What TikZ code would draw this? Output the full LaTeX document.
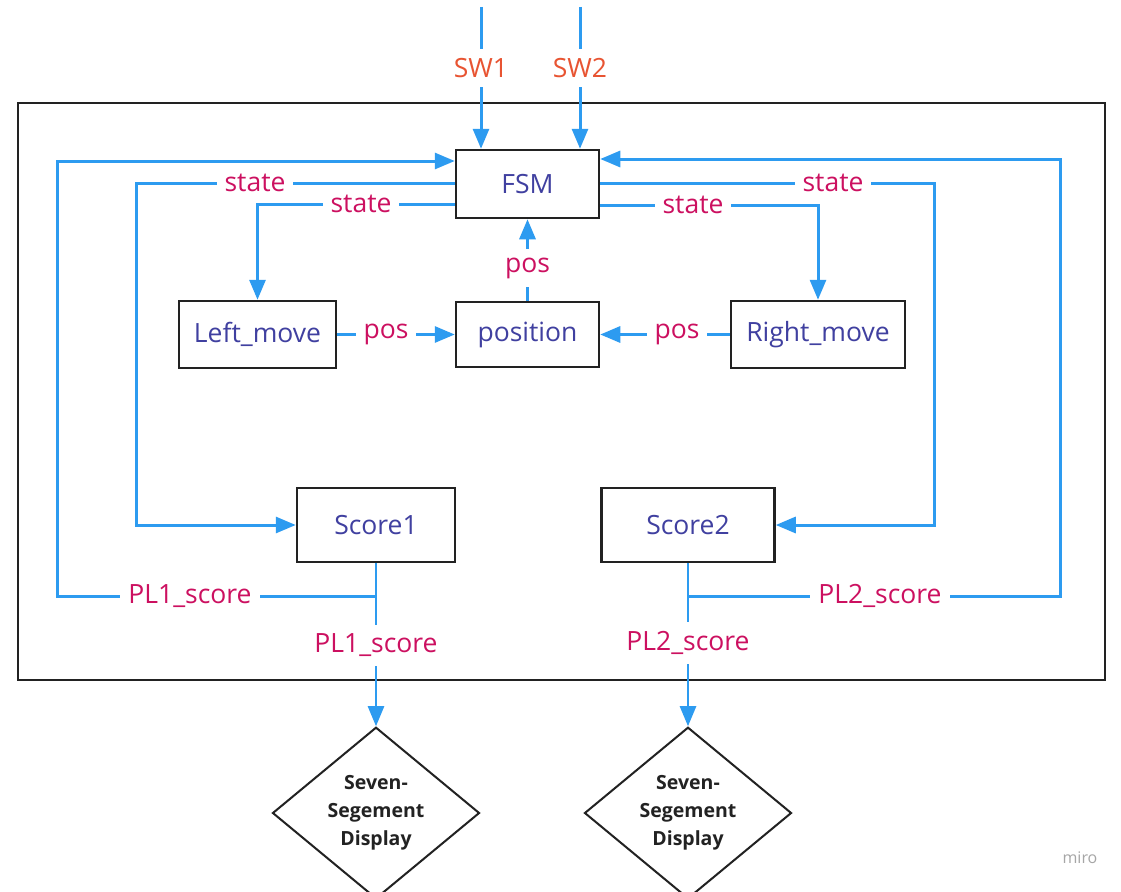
\documentclass[tikz,border=0pt]{standalone}
\usepackage{fontspec}
\setmainfont{Open Sans}
\usetikzlibrary{arrows.meta,shapes.geometric}
\definecolor{lineblue}{RGB}{45,155,240}
\definecolor{boxtext}{RGB}{64,64,160}
\definecolor{labmag}{RGB}{204,16,96}
\definecolor{swred}{RGB}{232,84,50}
\definecolor{edgecol}{RGB}{34,34,34}
\begin{document}
\begin{tikzpicture}[x=1pt,y=-1pt,
  box/.style={draw=edgecol,line width=2.5pt,fill=white,text=boxtext,font=\fontsize{26.5}{30}\selectfont,inner sep=0pt},
  conn/.style={draw=lineblue,line width=3pt},
  arr/.style={conn,-{Triangle[length=20pt,width=16pt]}},
  lab/.style={fill=white,text=labmag,font=\fontsize{26.5}{30}\selectfont,inner xsep=8pt,inner ysep=0pt},
  vlab/.style={lab,inner xsep=2pt,inner ysep=9pt},
  swlab/.style={vlab,text=swred},
  disp/.style={draw=edgecol,line width=2pt,shape=diamond,fill=white,minimum width=207pt,minimum height=162pt,inner sep=0pt,align=center,font=\fontsize{19.5}{28}\selectfont\bfseries,text=edgecol}
]
\useasboundingbox (0,0) rectangle (1121,891);
\fill[white] (0,0) rectangle (1121,891);
% frame
\draw[edgecol,line width=2pt] (18,103) rectangle (1105,680);
% boxes
\node[box,minimum width=143pt,minimum height=68pt] (FSM) at (527.5,184) {FSM};
\node[box,minimum width=143pt,minimum height=65pt] (Pos) at (527.5,334.5) {position};
\node[box,minimum width=157pt,minimum height=67pt] (Left) at (257.5,334.5) {Left\_move};
\node[box,minimum width=174pt,minimum height=67pt] (Right) at (818,334.5) {Right\_move};
\node[box,minimum width=158pt,minimum height=74pt] (Score1) at (376,525) {Score1};
\node[box,minimum width=173pt,minimum height=74pt] (Score2) at (688,525) {Score2};
\node[disp] (D1) at (376,813) {Seven-\\Segement\\Display};
\node[disp] (D2) at (688,813) {Seven-\\Segement\\Display};
% coordinates
\coordinate (sw1) at (481,7);
\coordinate (sw2) at (580,7);
\coordinate (oL) at (57,161);
\coordinate (oR) at (1060,159);
\coordinate (sL1) at (136,183);
\coordinate (sL2) at (258,204);
\coordinate (sR1) at (934,183);
\coordinate (sR2) at (818,205);
\coordinate (j1) at (376,596);
\coordinate (j2) at (688,596);
% connectors
\draw[arr] (sw1) -- (FSM.north -| sw1);
\draw[arr] (sw2) -- (FSM.north -| sw2);
\draw[arr] (j1) -| (oL) -- (FSM.west |- oL);
\draw[arr] (j2) -| (oR) -- (FSM.east |- oR);
\draw[arr] (FSM.west |- sL1) -- (sL1) |- (Score1.west);
\draw[arr] (FSM.west |- sL2) -| (Left.north);
\draw[arr] (FSM.east |- sR1) -- (sR1) |- (Score2.east);
\draw[arr] (FSM.east |- sR2) -| (Right.north);
\draw[arr] (Pos.north) -- (FSM.south);
\draw[arr] (Left.east) -- (Pos.west);
\draw[arr] (Right.west) -- (Pos.east);
\draw[arr,line width=2.5pt] (Score1.south) -- (D1.north);
\draw[arr,line width=2.5pt] (Score2.south) -- (D2.north);
% labels
\node[swlab] (lsw1) at (481,68) {SW1};
\node[swlab] (lsw2) at (580,68) {SW2};
\node[lab] (ls1) at (255,183) {state};
\node[lab] (ls2) at (361,204) {state};
\node[lab] (ls3) at (833,183) {state};
\node[lab] (ls4) at (693,205) {state};
\node[vlab] (lp1) at (527.5,268) {pos};
\node[lab] (lp2) at (386,334.5) {pos};
\node[lab] (lp3) at (677,334.5) {pos};
\node[lab] (lpl1a) at (190,596) {PL1\_score};
\node[vlab] (lpl1b) at (376,645) {PL1\_score};
\node[lab] (lpl2a) at (880,596) {PL2\_score};
\node[vlab] (lpl2b) at (688,643) {PL2\_score};
\node[text=black!35,font=\fontsize{16}{18}\selectfont] (miro) at (1080,858) {miro};
\end{tikzpicture}
\end{document}
